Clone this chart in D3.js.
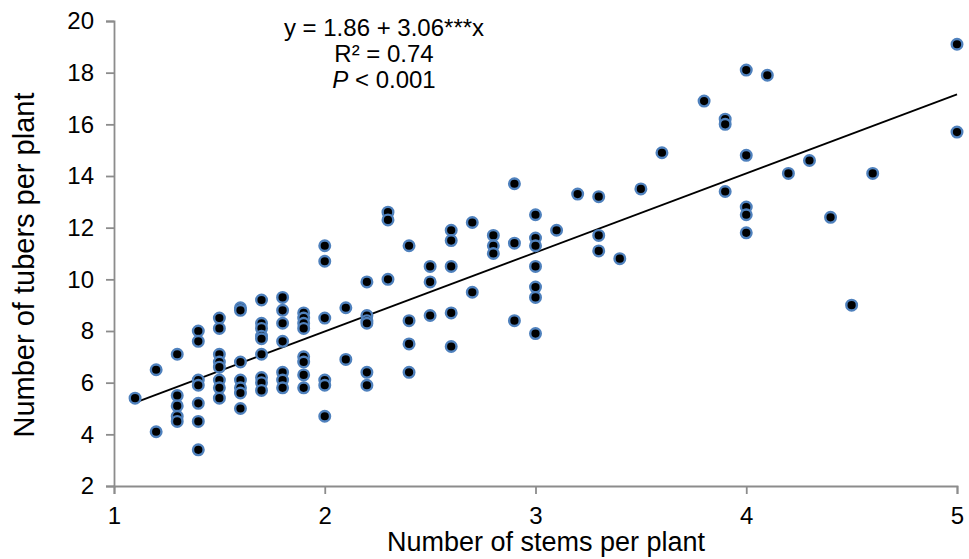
<!DOCTYPE html>
<html>
<head>
<meta charset="utf-8">
<script src="https://cdn.jsdelivr.net/npm/d3@7"></script>
<style>
  html, body { margin: 0; padding: 0; background: #fff; }
  svg { display: block; font-family: "Liberation Sans", Arial, sans-serif; }
</style>
</head>
<body>
<svg id="chart" width="969" height="559"></svg>
<script>
// ---- data ----
const stems = [
  1.1,
  1.2, 1.2,
  1.3, 1.3, 1.3, 1.3, 1.3,
  1.4, 1.4, 1.4, 1.4, 1.4, 1.4, 1.4,
  1.5, 1.5, 1.5, 1.5, 1.5, 1.5, 1.5, 1.5,
  1.6, 1.6, 1.6, 1.6, 1.6, 1.6, 1.6,
  1.7, 1.7, 1.7, 1.7, 1.7, 1.7, 1.7, 1.7, 1.7,
  1.8, 1.8, 1.8, 1.8, 1.8, 1.8, 1.8,
  1.9, 1.9, 1.9, 1.9, 1.9, 1.9, 1.9, 1.9,
  2.0, 2.0, 2.0, 2.0, 2.0, 2.0,
  2.1, 2.1,
  2.2, 2.2, 2.2, 2.2, 2.2, 2.2,
  2.3, 2.3, 2.3,
  2.4, 2.4, 2.4, 2.4,
  2.5, 2.5, 2.5,
  2.6, 2.6, 2.6, 2.6, 2.6,
  2.7, 2.7,
  2.8, 2.8, 2.8,
  2.9, 2.9, 2.9,
  3.0, 3.0, 3.0, 3.0, 3.0, 3.0, 3.0,
  3.1,
  3.2,
  3.3, 3.3, 3.3,
  3.4,
  3.5,
  3.6,
  3.8,
  3.9, 3.9, 3.9,
  4.0, 4.0, 4.0, 4.0, 4.0,
  4.1,
  4.2,
  4.3,
  4.4,
  4.5,
  4.6,
  5.0, 5.0
];
const tubers = [
  5.4,
  6.5, 4.1,
  7.1, 5.5, 5.1, 4.7, 4.5,
  8.0, 7.6, 6.1, 5.9, 5.2, 4.5, 3.4,
  8.5, 8.1, 7.1, 6.8, 6.6, 6.1, 5.8, 5.4,
  8.9, 8.8, 6.8, 6.1, 5.8, 5.6, 5.0,
  9.2, 8.3, 8.1, 7.8, 7.7, 7.1, 6.2, 6.0, 5.7,
  9.3, 8.8, 8.3, 7.6, 6.4, 6.1, 5.8,
  8.7, 8.5, 8.3, 8.1, 7.0, 6.8, 6.3, 5.8,
  11.3, 10.7, 8.5, 6.1, 5.9, 4.7,
  8.9, 6.9,
  9.9, 8.6, 8.4, 8.3, 6.4, 5.9,
  12.6, 12.3, 10.0,
  11.3, 8.4, 7.5, 6.4,
  10.5, 9.9, 8.6,
  11.9, 11.5, 10.5, 8.7, 7.4,
  12.2, 9.5,
  11.7, 11.3, 11.0,
  13.7, 11.4, 8.4,
  12.5, 11.6, 11.3, 10.5, 9.7, 9.3, 7.9,
  11.9,
  13.3,
  13.2, 11.7, 11.1,
  10.8,
  13.5,
  14.9,
  16.9,
  16.2, 16.0, 13.4,
  18.1, 14.8, 12.8, 12.5, 11.8,
  17.9,
  14.1,
  14.6,
  12.4,
  9.0,
  14.1,
  19.1, 15.7
];
const xTicks = [1, 2, 3, 4, 5];
const yTicks = [2, 4, 6, 8, 10, 12, 14, 16, 18, 20];
const intercept = 1.86;
const slope = 3.06;
const fitRange = [1.1, 5.0];
const xTitle = "Number of stems per plant";
const yTitle = "Number of tubers per plant";
const eqLines = ["y = 1.86 + 3.06***x", "R² = 0.74"];

// ---- chart ----
const svg = d3.select("#chart");
const x = d3.scaleLinear().domain([1, 5]).range([114, 957]);
const y = d3.scaleLinear().domain([2, 20]).range([486, 21]);
const axisColor = "#8c8c8c";

// y axis
const gy = svg.append("g")
  .attr("transform", `translate(${x(1)},0)`)
  .call(d3.axisLeft(y).tickValues(yTicks).tickSize(8).tickPadding(12).tickFormat(d3.format("d")));
// x axis
const gx = svg.append("g")
  .attr("transform", `translate(0,${y(2)})`)
  .call(d3.axisBottom(x).tickValues(xTicks).tickSize(8).tickPadding(13).tickFormat(d3.format("d")));

[gx, gy].forEach(g => {
  g.select(".domain").attr("stroke", axisColor).attr("stroke-width", 1.8);
  g.selectAll(".tick line").attr("stroke", axisColor).attr("stroke-width", 1.8);
  g.selectAll(".tick text").attr("fill", "#000").attr("font-size", 24)
    .attr("font-family", "'Liberation Sans', Arial, sans-serif");
});

// regression line
svg.append("line")
  .attr("x1", x(fitRange[0])).attr("y1", y(intercept + slope * fitRange[0]))
  .attr("x2", x(fitRange[1])).attr("y2", y(intercept + slope * fitRange[1]))
  .attr("stroke", "#000").attr("stroke-width", 1.8);

// points
const pts = stems.map((s, i) => ({ s, t: tubers[i] }));
svg.append("g").selectAll("circle").data(pts).join("circle")
  .attr("cx", d => x(d.s)).attr("cy", d => y(d.t)).attr("r", 5.3)
  .attr("fill", "#000").attr("stroke", "#4f81bd").attr("stroke-width", 2.4);

// annotation
const ann = svg.append("text").attr("text-anchor", "middle").attr("font-size", 24).attr("fill", "#000");
ann.append("tspan").attr("x", 384).attr("y", 36).text(eqLines[0]);
ann.append("tspan").attr("x", 384).attr("y", 62).text(eqLines[1]);
const l3 = ann.append("tspan").attr("x", 384).attr("y", 88);
l3.append("tspan").attr("font-style", "italic").text("P");
l3.append("tspan").text(" < 0.001");

// axis titles
svg.append("text").attr("x", 546).attr("y", 551).attr("text-anchor", "middle")
  .attr("font-size", 27).attr("fill", "#000").text(xTitle);
svg.append("text").attr("transform", `translate(34,265) rotate(-90)`).attr("text-anchor", "middle")
  .attr("font-size", 29).attr("fill", "#000").text(yTitle);
</script>
</body>
</html>
